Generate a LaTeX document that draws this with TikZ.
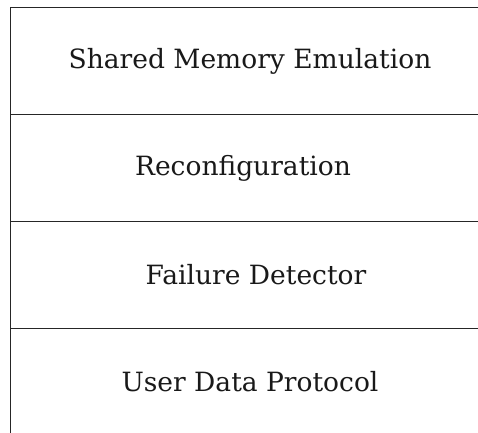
\documentclass[tikz,border=0pt]{standalone}
\usepackage{fontspec}
\setmainfont{DejaVu Serif}
\begin{document}
\begin{tikzpicture}[x=1pt,y=-1pt,
  layer/.style={draw=black!85, line width=1.4pt, rectangle, minimum width=490pt, minimum height=107pt, anchor=north west, inner sep=0pt},
  lbl/.style={font=\fontsize{26.5}{30}\selectfont, text=black!90, inner sep=0pt}]
\useasboundingbox (0,0) rectangle (478,432);
\clip (0,0) rectangle (478,432);
\fill[white] (0,0) rectangle (478,432);
\node[layer] (l1) at (10,7) {};
\node[layer] (l2) at (10,114) {};
\node[layer] (l3) at (10,221) {};
\node[layer] (l4) at (10,328) {};
\node[lbl] (t1) at (250,61) {Shared Memory Emulation};
\node[lbl] (t2) at (243,168) {Reconfiguration};
\node[lbl] (t3) at (256,275) {Failure Detector};
\node[lbl] (t4) at (250,382) {User Data Protocol};
\end{tikzpicture}
\end{document}
